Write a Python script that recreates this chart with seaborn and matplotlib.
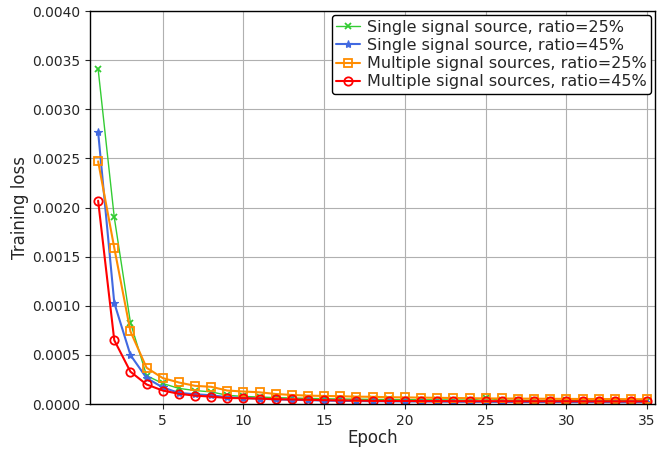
import matplotlib
matplotlib.use("Agg")
import matplotlib.pyplot as plt
import seaborn as sns
from matplotlib.ticker import FormatStrFormatter

epochs = list(range(1, 36))

single_25 = [0.00341, 0.00190, 0.00083, 0.00029, 0.00021, 0.00016, 0.000138, 0.000124,
             0.000090, 0.000078, 0.000072, 0.000066, 0.000062, 0.000058, 0.000055,
             0.000052, 0.000050, 0.000048, 0.000047, 0.000045, 0.000044, 0.000043,
             0.000042, 0.000041, 0.000060, 0.000040, 0.000039, 0.000038, 0.000037,
             0.000037, 0.000036, 0.000036, 0.000035, 0.000035, 0.000034]
single_45 = [0.00277, 0.00103, 0.00050, 0.000265, 0.00017, 0.000114, 0.000100, 0.000090,
             0.000070, 0.000062, 0.000055, 0.000048, 0.000044, 0.000040, 0.000036,
             0.000033, 0.000031, 0.000029, 0.000028, 0.000027, 0.000026, 0.000025,
             0.000024, 0.000023, 0.000023, 0.000022, 0.000022, 0.000021, 0.000021,
             0.000020, 0.000020, 0.000020, 0.000019, 0.000019, 0.000019]
multi_25 = [0.00247, 0.00159, 0.00074, 0.00037, 0.000265, 0.00022, 0.000186, 0.000176,
            0.000138, 0.000128, 0.000120, 0.000103, 0.000093, 0.000086, 0.000083,
            0.000080, 0.000076, 0.000074, 0.000070, 0.000068, 0.000066, 0.000064,
            0.000062, 0.000060, 0.000058, 0.000057, 0.000056, 0.000055, 0.000054,
            0.000053, 0.000052, 0.000052, 0.000051, 0.000050, 0.000050]
multi_45 = [0.00207, 0.00065, 0.00033, 0.00020, 0.000138, 0.000105, 0.000086, 0.000076,
            0.000062, 0.000060, 0.000056, 0.000050, 0.000047, 0.000044, 0.000040,
            0.000038, 0.000036, 0.000033, 0.000032, 0.000032, 0.000031, 0.000031,
            0.000030, 0.000030, 0.000030, 0.000030, 0.000029, 0.000029, 0.000029,
            0.000029, 0.000028, 0.000028, 0.000028, 0.000028, 0.000028]

labels = ["Single signal source, ratio=25%", "Single signal source, ratio=45%",
          "Multiple signal sources, ratio=25%", "Multiple signal sources, ratio=45%"]

sns.set_style("ticks")
plt.rcParams['font.family'] = ['DejaVu Sans']

fig = plt.figure(figsize=(6.72, 4.49), dpi=100)
ax = fig.add_axes([0.134, 0.1, 0.841, 0.8755])

sns.lineplot(x=epochs, y=single_25, ax=ax, color="#33cc33", marker="x", markersize=5,
             linewidth=1.0, markeredgecolor="#33cc33", markeredgewidth=1.3, label=labels[0])
sns.lineplot(x=epochs, y=single_45, ax=ax, color="royalblue", marker="*", markersize=6,
             linewidth=1.5, markeredgecolor="royalblue", markeredgewidth=0.8, label=labels[1])
sns.lineplot(x=epochs, y=multi_25, ax=ax, color="darkorange", marker="s", markersize=6,
             linewidth=1.5, markerfacecolor="none", markeredgecolor="darkorange",
             markeredgewidth=1.3, label=labels[2])
sns.lineplot(x=epochs, y=multi_45, ax=ax, color="red", marker="o", markersize=6,
             linewidth=1.5, markerfacecolor="none", markeredgecolor="red",
             markeredgewidth=1.3, label=labels[3])

ax.set_xlim(0.5, 35.5)
ax.set_ylim(0, 0.004)
ax.set_xticks([5, 10, 15, 20, 25, 30, 35])
ax.set_yticks([i * 0.0005 for i in range(9)])
ax.yaxis.set_major_formatter(FormatStrFormatter('%.4f'))
ax.grid(True, color="#b0b0b0", linewidth=0.8)
ax.tick_params(labelsize=10)
for s in ax.spines.values():
    s.set_color("black")
    s.set_linewidth(1.0)
ax.set_xlabel("Epoch", fontsize=12, labelpad=1)
ax.set_ylabel("Training loss", fontsize=12, labelpad=2)
leg = ax.legend(loc="upper right", fontsize=11.5, handlelength=1.5, borderpad=0.3,
                labelspacing=0.2, handletextpad=0.4, borderaxespad=0.25, framealpha=1)
leg.get_frame().set_edgecolor("black")

fig.savefig("out.png", dpi=100)
